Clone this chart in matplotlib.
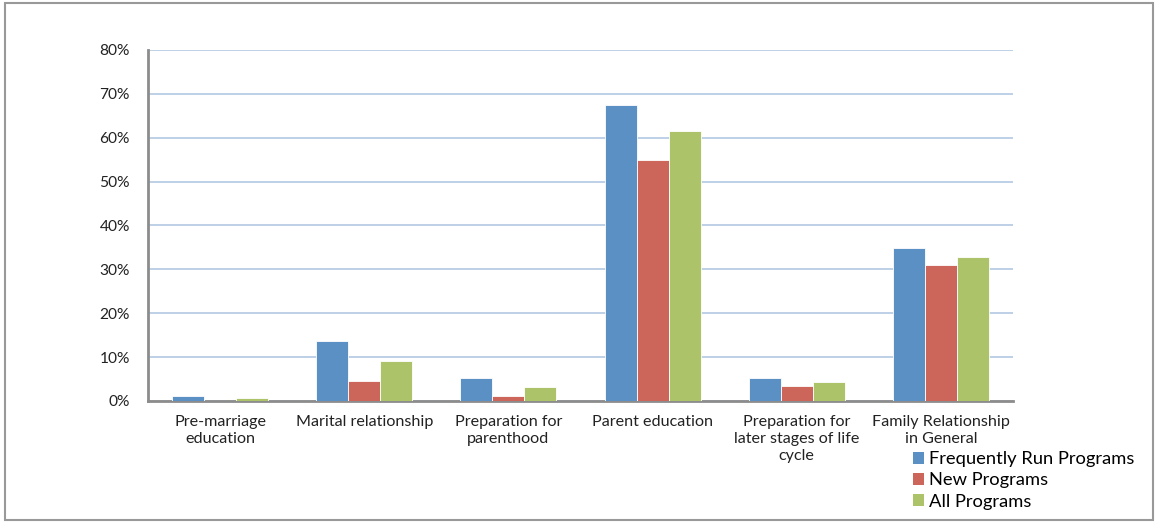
import numpy as np
import matplotlib
matplotlib.use('Agg')
import matplotlib.pyplot as plt
from matplotlib.patches import Rectangle, Patch
from matplotlib.ticker import PercentFormatter

#------------------------------------------------------------------------------
# Data
#------------------------------------------------------------------------------

categories = ['Pre-marriage\neducation', 'Marital relationship',
              'Preparation for\nparenthood', 'Parent education',
              'Preparation for\nlater stages of life\ncycle',
              'Family Relationship\nin General']
series_names = ['Frequently Run Programs', 'New Programs', 'All Programs']
frequently_run = [1.1, 13.7, 5.2, 67.5, 5.2, 34.9]
new_programs = [0.0, 4.6, 1.1, 55.0, 3.4, 31.0]
all_programs = [0.6, 9.1, 3.2, 61.5, 4.3, 32.8]
colors = ['#5b90c5', '#cc665a', '#acc36a']

#------------------------------------------------------------------------------
# Figure
#------------------------------------------------------------------------------

plt.rcParams['font.family'] = ['Lato', 'DejaVu Sans']

fig = plt.figure(figsize=(11.58, 5.23), dpi=100)
ax = fig.add_axes([0.1278, 0.2333, 0.7470, 0.6711])

x = np.arange(len(categories))
w = 1 / 4.5
for i, vals in enumerate([frequently_run, new_programs, all_programs]):
    ax.bar(x + (i - 1) * w, vals, width=w, color=colors[i],
           edgecolor='white', linewidth=0.6, zorder=3)

ax.set_xlim(-0.5, len(categories) - 0.5)
ax.set_ylim(0, 80)
ax.set_yticks(np.arange(0, 81, 10))
ax.yaxis.set_major_formatter(PercentFormatter(decimals=0))
ax.grid(axis='y', color='#b9cde5', linewidth=1.3, zorder=0)
ax.set_xticks(x)
ax.set_xticklabels(categories, fontsize=11.6, color='#222222', linespacing=1.3)
ax.tick_params(axis='y', labelsize=11.2, labelcolor='#222222', length=0, pad=13)
ax.tick_params(axis='x', length=0, pad=10)

for s in ['top', 'right']:
    ax.spines[s].set_visible(False)
ax.spines['left'].set_color('#8c8c8c')
ax.spines['left'].set_linewidth(2)
ax.spines['bottom'].set_color('#8c8c8c')
ax.spines['bottom'].set_linewidth(2)

handles = [Patch(facecolor=c) for c in colors]
fig.legend(handles, series_names, loc='upper left',
           bbox_to_anchor=(0.788, 0.137), frameon=False, fontsize=13.2,
           handlelength=0.6, handleheight=0.6, handletextpad=0.3,
           labelspacing=0.28, borderpad=0, borderaxespad=0)

# outer frame
fig.patches.append(Rectangle((0.004, 0.006), 0.992, 0.988, transform=fig.transFigure,
                             fill=False, edgecolor='#999999', linewidth=1.5))

fig.savefig('out.png', dpi=100)
